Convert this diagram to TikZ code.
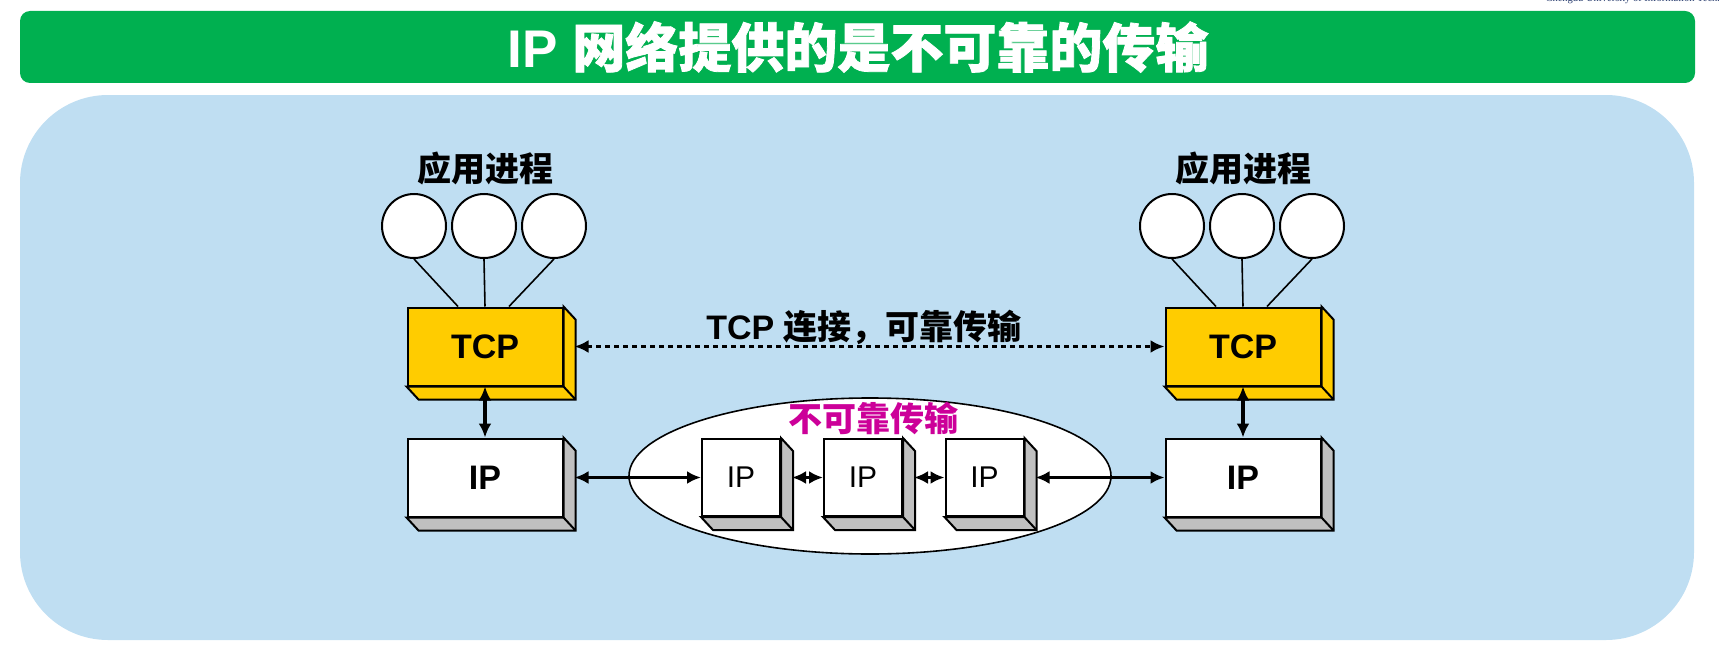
\documentclass[tikz,border=0pt]{standalone}
\usepackage{fontspec}
\setmainfont{Liberation Sans}
\newfontfamily\cjk{Noto Sans CJK SC}
\newfontfamily\cjkheavy{Noto Sans CJK SC}[BoldFeatures={FakeBold=1.5}]
\newfontfamily\uniserif{Liberation Serif}
\usepackage{tikz}
\usetikzlibrary{arrows.meta,shapes.geometric}

\definecolor{titlegreen}{RGB}{0,176,80}
\definecolor{panelblue}{RGB}{191,222,242}
\definecolor{tcpyellow}{RGB}{255,204,0}
\definecolor{sidegray}{RGB}{192,192,192}
\definecolor{netmagenta}{RGB}{204,0,153}
\definecolor{unitext}{RGB}{40,60,110}

\begin{document}
\begin{tikzpicture}[x=1pt,y=-1pt,
        boxface/.style={draw,line width=2pt,inner sep=0pt,minimum width=155pt,minimum height=78pt,font=\fontsize{34}{40}\selectfont\bfseries},
        ipsmall/.style={draw,line width=2pt,fill=white,inner sep=0pt,minimum width=78pt,minimum height=77pt,font=\fontsize{30}{36}\selectfont},
        proc/.style={circle,draw,line width=2pt,fill=white,minimum size=64pt,inner sep=0pt},
        link/.style={line width=3.2pt,{Latex[length=14pt,width=13pt]}-{Latex[length=14pt,width=13pt]}},
        cjktext/.style={font=\fontsize{34}{40}\selectfont\cjk\bfseries}
    ]
            \useasboundingbox (0,0) rectangle (1719,669);

            \node[anchor=base west,font=\uniserif\fontsize{10.5}{12}\selectfont,text=unitext] (uni) at (1542,2) {Chengdu University of Information Technology};

            \fill[titlegreen,rounded corners=10pt] (20,11) rectangle (1695,83);
            \node[text=white,font=\fontsize{53}{60}\selectfont\bfseries] (title) at (858,47) {IP {\cjkheavy 网络提供的是不可靠的传输}};

            \fill[panelblue,rounded corners=88pt] (20,95) rectangle (1694,640);

            \begin{scope}
                \node[cjktext] (appL) at (485,169) {应用进程};
                \node[proc] (pL1) at (414,226) {};
                \node[proc] (pL2) at (484,226) {};
                \node[proc] (pL3) at (554,226) {};
                \node[boxface,fill=tcpyellow] (tcpL) at (485,346.5) {TCP};
                \node[boxface,fill=white] (ipL) at (485,477.5) {IP};

                \draw[line width=1.6pt] (pL1.south) -- ([xshift=-27pt]tcpL.north);
                \draw[line width=1.6pt] (pL2.south) -- (tcpL.north);
                \draw[line width=1.6pt] (pL3.south) -- ([xshift=24pt]tcpL.north);
            \end{scope}

            \begin{scope}
                \node[cjktext] (appR) at (1243,169) {应用进程};
                \node[proc] (pR1) at (1172,226) {};
                \node[proc] (pR2) at (1242,226) {};
                \node[proc] (pR3) at (1312,226) {};
                \node[boxface,fill=tcpyellow] (tcpR) at (1243,346.5) {TCP};
                \node[boxface,fill=white] (ipR) at (1243,477.5) {IP};

                \draw[line width=1.6pt] (pR1.south) -- ([xshift=-27pt]tcpR.north);
                \draw[line width=1.6pt] (pR2.south) -- (tcpR.north);
                \draw[line width=1.6pt] (pR3.south) -- ([xshift=24pt]tcpR.north);
            \end{scope}

            \node[ellipse,draw,line width=1.6pt,fill=white,minimum width=482pt,minimum height=156pt] (net) at (870,476) {};
            \node[cjktext,text=netmagenta] (unrel) at (873,418) {不可靠传输};
            \node[ipsmall] (ip1) at (741,477.5) {IP};
            \node[ipsmall] (ip2) at (863,477.5) {IP};
            \node[ipsmall] (ip3) at (984.5,477.5) {IP};

            \foreach \n/\c in {tcpL/tcpyellow,tcpR/tcpyellow,ipL/sidegray,ipR/sidegray,ip1/sidegray,ip2/sidegray,ip3/sidegray}{
                \draw[line width=2pt,fill=\c] (\n.north east) -- ([shift={(12,13)}]\n.north east) -- ([shift={(12,13)}]\n.south east) -- ([shift={(12,13)}]\n.south west) -- (\n.south west) -- (\n.south east) -- cycle;
                \draw[line width=2pt] (\n.south east) -- ++(12,13);
            }

            \node[font=\fontsize{34}{40}\selectfont\bfseries] (tcplink) at (864,327) {TCP {\cjk 连接，可靠传输}};

            \draw[link] (tcpL.south) -- (ipL.north);
            \draw[link] (tcpR.south) -- (ipR.north);
            \draw[link,dash pattern=on 5pt off 4pt] ([xshift=11pt]tcpL.east) -- (tcpR.west);
            \draw[link] ([xshift=11pt]ipL.east) -- (ip1.west);
            \draw[link] ([xshift=11pt]ip1.east) -- (ip2.west);
            \draw[link] ([xshift=11pt]ip2.east) -- (ip3.west);
            \draw[link] ([xshift=11pt]ip3.east) -- (ipR.west);
        \end{tikzpicture}
\end{document}
